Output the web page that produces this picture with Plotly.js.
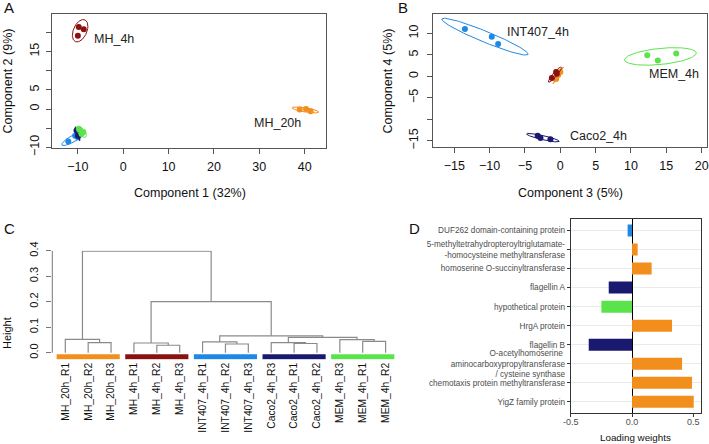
<!DOCTYPE html>
<html><head><meta charset="utf-8">
<script src="https://cdn.plot.ly/plotly-3.0.1.min.js"></script>
<style>html,body{margin:0;padding:0;background:#fff}#chart{width:709px;height:444px}</style>
</head><body><div id="chart"></div>
<script>
// ---------------- DATA ----------------
// Panel A : Component 1 (32%) vs Component 2 (9%)
const A_MH4h_x   = [-9.8, -8.7, -10.0];
const A_MH4h_y   = [21.4, 20.8, 19.1];
const A_MH20h_x  = [38.9, 40.3, 41.3];
const A_MH20h_y  = [-0.1, 0.0, -0.6];
const A_INT407_x = [-12.1, -10.6, -10.0];
const A_INT407_y = [-8.5, -7.0, -7.4];
const A_Caco2_x  = [-10.3, -9.9, -10.0];
const A_Caco2_y  = [-5.6, -6.8, -7.0];
const A_MEM_x    = [-9.7, -8.8, -9.2];
const A_MEM_y    = [-5.3, -6.0, -6.5];
const A_xticks = [-10, 0, 10, 20, 30, 40];
const A_xlabels = ["\u221210", "0", "10", "20", "30", "40"];
const A_yticks = [-10, -5, 0, 5, 10, 15, 20];
const A_ylabels = ["\u221210", "", "0", "5", "", "15", ""];

// Panel B : Component 3 (5%) vs Component 4 (5%)
const B_MH4h_x   = [-1.2, -0.6, -0.5];
const B_MH4h_y   = [-0.4, 1.0, 0.6];
const B_MH20h_x  = [0.0, -0.3, -0.6];
const B_MH20h_y  = [1.0, 0.3, -0.6];
const B_INT407_x = [-13.5, -9.7, -8.8];
const B_INT407_y = [11.0, 9.2, 7.5];
const B_Caco2_x  = [-3.2, -2.8, -1.4];
const B_Caco2_y  = [-13.8, -14.35, -14.6];
const B_MEM_x    = [12.3, 13.8, 16.4];
const B_MEM_y    = [4.9, 3.7, 5.3];
const B_xticks = [-15, -10, -5, 0, 5, 10, 15, 20];
const B_xlabels = ["\u221215", "\u221210", "\u22125", "0", "5", "10", "15", "20"];
const B_yticks = [-15, -10, -5, 0, 5, 10];
const B_ylabels = ["\u221215", "", "\u22125", "0", "5", "10"];

// Panel C : hierarchical clustering dendrogram
const C_leaves = ["MH_20h_R1","MH_20h_R2","MH_20h_R3","MH_4h_R1","MH_4h_R2","MH_4h_R3",
  "INT407_4h_R1","INT407_4h_R2","INT407_4h_R3","Caco2_4h_R3","Caco2_4h_R1","Caco2_4h_R2",
  "MEM_4h_R3","MEM_4h_R1","MEM_4h_R2"];
const C_leafGroup = ["MH_20h","MH_20h","MH_20h","MH_4h","MH_4h","MH_4h",
  "INT407_4h","INT407_4h","INT407_4h","Caco2_4h","Caco2_4h","Caco2_4h","MEM_4h","MEM_4h","MEM_4h"];
const C_mergeLeft   = [-2, -5, -8, -11, -14, -4, -10, -7, -13, -1, 7, 8, 6, 10];
const C_mergeRight  = [-3, -6, -9, -12, -15, 2, 4, 3, 5, 1, 9, 11, 12, 13];
const C_mergeHeight = [0.039, 0.029, 0.034, 0.036, 0.044, 0.038, 0.039, 0.042, 0.051, 0.052, 0.060, 0.066, 0.200, 0.398];
const C_yticks = [0, 0.1, 0.2, 0.3, 0.4];
const C_ylabels = ["0.0", "0.1", "0.2", "0.3", "0.4"];

// Panel D : loading weights
const D_proteins = ["DUF262 domain-containing protein",
  "5-methyltetrahydropteroyltriglutamate-<br>-homocysteine methyltransferase",
  "homoserine O-succinyltransferase", "flagellin A", "hypothetical protein", "HrgA protein",
  "flagellin B", "O-acetylhomoserine <br>aminocarboxypropyltransferase<br>/ cysteine synthase",
  "chemotaxis protein methyltransferase", "YigZ family protein"];
const D_weights = [-0.036, 0.046, 0.16, -0.19, -0.25, 0.326, -0.353, 0.408, 0.489, 0.503];
const D_group = ["INT407_4h","MH_20h","MH_20h","Caco2_4h","MEM_4h","MH_20h","Caco2_4h","MH_20h","MH_20h","MH_20h"];
const D_xticks = [-0.5, 0, 0.5];
const D_xlabels = ["-0.5", "0.0", "0.5"];

// ---------------- STYLE ----------------
const COL = {"MH_4h":"#8B1010","MH_20h":"#F28E1C","INT407_4h":"#1E88E5","Caco2_4h":"#191970","MEM_4h":"#5BE34B"};
const FONT = "Liberation Sans, Arial, Helvetica, sans-serif";
const W = 709, H = 444;
const fx = v => v / W, fy = v => 1 - v / H;
const K95 = Math.sqrt(-2 * Math.log(0.05)); // sqrt(qchisq(.95,2))

function mean(a){ return a.reduce((s,v)=>s+v,0)/a.length; }
function ellipse(xs, ys){
  const mx = mean(xs), my = mean(ys), n = xs.length;
  let sxx=0, syy=0, sxy=0;
  for(let i=0;i<n;i++){ const dx=xs[i]-mx, dy=ys[i]-my; sxx+=dx*dx; syy+=dy*dy; sxy+=dx*dy; }
  sxx/=(n-1); syy/=(n-1); sxy/=(n-1);
  const l11 = Math.sqrt(sxx), l21 = sxy/l11, l22 = Math.sqrt(Math.max(syy - l21*l21, 0));
  const ex=[], ey=[];
  for(let k=0;k<=120;k++){ const t = 2*Math.PI*k/120, c=Math.cos(t), s=Math.sin(t);
    ex.push(mx + K95*l11*c); ey.push(my + K95*(l21*c + l22*s)); }
  return {ex, ey, mx, my};
}

const traces = [];
const annotations = [];
function scoreGroup(xs, ys, grp, xa, ya){
  const e = ellipse(xs, ys);
  traces.push({type:"scatter", mode:"lines", x:e.ex, y:e.ey, xaxis:xa, yaxis:ya,
    line:{color:COL[grp], width:1}, hoverinfo:"skip", showlegend:false});
  traces.push({type:"scatter", mode:"markers", x:xs, y:ys, xaxis:xa, yaxis:ya,
    marker:{color:COL[grp], size:6}, hoverinfo:"skip", showlegend:false});
  return e;
}
function groupLabel(e, text, xa, ya, anchor, dx, dy){
  annotations.push({text:text, x:e.mx, y:e.my, xref:xa, yref:ya, showarrow:false,
    xanchor:anchor, yanchor:"middle", xshift:dx, yshift:dy, font:{family:FONT, size:12.5, color:"#222"}});
}

// Panel A
const eA1 = scoreGroup(A_INT407_x, A_INT407_y, "INT407_4h", "x", "y");
const eA2 = scoreGroup(A_Caco2_x, A_Caco2_y, "Caco2_4h", "x", "y");
const eA3 = scoreGroup(A_MEM_x, A_MEM_y, "MEM_4h", "x", "y");
const eA4 = scoreGroup(A_MH4h_x, A_MH4h_y, "MH_4h", "x", "y");
const eA5 = scoreGroup(A_MH20h_x, A_MH20h_y, "MH_20h", "x", "y");
groupLabel(eA4, "MH_4h", "x", "y", "left", 11.4, -7.8);
groupLabel(eA5, "MH_20h", "x", "y", "right", -2.3, -12.8);

// Panel B
const eB1 = scoreGroup(B_INT407_x, B_INT407_y, "INT407_4h", "x2", "y2");
const eB2 = scoreGroup(B_Caco2_x, B_Caco2_y, "Caco2_4h", "x2", "y2");
const eB3 = scoreGroup(B_MEM_x, B_MEM_y, "MEM_4h", "x2", "y2");
const eB5 = scoreGroup(B_MH20h_x, B_MH20h_y, "MH_20h", "x2", "y2");
const eB4 = scoreGroup(B_MH4h_x, B_MH4h_y, "MH_4h", "x2", "y2");
groupLabel(eB1, "INT407_4h", "x2", "y2", "left", 19.6, 4.7);
groupLabel(eB3, "MEM_4h", "x2", "y2", "left", -13.3, -17.2);
groupLabel(eB2, "Caco2_4h", "x2", "y2", "left", 24.7, 1.8);

// Panel C dendrogram
(function(){
  const nodeX = [], nodeY = [];
  function pos(id){ return id < 0 ? [ -id, 0 ] : [ nodeX[id-1], nodeY[id-1] ]; }
  const lx = [], ly = [];
  for(let k=0;k<C_mergeHeight.length;k++){
    const L = pos(C_mergeLeft[k]), R = pos(C_mergeRight[k]), h = C_mergeHeight[k];
    lx.push(L[0], L[0], R[0], R[0], null); ly.push(L[1], h, h, R[1], null);
    nodeX.push((L[0]+R[0])/2); nodeY.push(h);
  }
  traces.push({type:"scatter", mode:"lines", x:lx, y:ly, xaxis:"x3", yaxis:"y3",
    line:{color:"#8a8a8a", width:1.2}, hoverinfo:"skip", showlegend:false});
  const seen = [];
  C_leafGroup.forEach(g => { if(!seen.includes(g)) seen.push(g); });
  seen.forEach(g => {
    const idx = C_leafGroup.map((v,i)=>v===g ? i+1 : null).filter(v=>v!==null);
    traces.push({type:"scatter", mode:"lines", x:[Math.min(...idx)-0.38, Math.max(...idx)+0.38],
      y:[-0.0157, -0.0157], xaxis:"x3", yaxis:"y3", line:{color:COL[g], width:5},
      hoverinfo:"skip", showlegend:false});
  });
})();

// Panel D bars
traces.push({type:"bar", orientation:"h", x:D_weights, y:D_proteins, xaxis:"x4", yaxis:"y4",
  marker:{color:D_group.map(g=>COL[g])}, width:0.63, hoverinfo:"skip", showlegend:false});

// ---------------- LAYOUT ----------------
const tickFont = {family:FONT, size:12.5, color:"#111"};
function boxAxis(extra){ return Object.assign({showline:true, mirror:true, linecolor:"#555", linewidth:1,
  ticks:"outside", ticklen:5, tickcolor:"#555", showgrid:false, zeroline:false, tickmode:"array",
  tickfont:tickFont, automargin:false}, extra); }

function paperText(text, x, y, size, angle){
  return {text:text, x:fx(x), y:fy(y), xref:"paper", yref:"paper", xanchor:"center", yanchor:"middle",
    showarrow:false, textangle:angle||0, font:{family:FONT, size:size, color:"#111"}};
}
annotations.push(
  paperText("Component 1 (32%)", 190, 193, 12.5),
  paperText("Component 2 (9%)", 7.5, 81, 12.5, -90),
  paperText("Component 3 (5%)", 570.5, 193, 12.5),
  paperText("Component 4 (5%)", 387.5, 81, 12.5, -90),
  paperText("Height", 7, 333, 11, -90),
  paperText("Loading weights", 635.3, 437, 9.8),
  paperText("A", 8.5, 7.8, 15),
  paperText("B", 403.3, 7.8, 15),
  paperText("C", 9.2, 229, 15),
  paperText("D", 414.3, 228.3, 15)
);

const layout = {
  width:W, height:H, margin:{l:0,r:0,t:0,b:0}, paper_bgcolor:"#fff", plot_bgcolor:"rgba(0,0,0,0)",
  showlegend:false, font:{family:FONT},
  xaxis: boxAxis({domain:[fx(52), fx(326)], range:[-15.7, 44.7], tickvals:A_xticks, ticktext:A_xlabels, anchor:"y"}),
  yaxis: boxAxis({domain:[fy(147.7), fy(14)], range:[-10.1, 24.8], tickvals:A_yticks, ticktext:A_ylabels, tickangle:-90, anchor:"x"}),
  xaxis2: boxAxis({domain:[fx(432.7), fx(707.3)], range:[-18.06, 20.8], tickvals:B_xticks, ticktext:B_xlabels, anchor:"y2"}),
  yaxis2: boxAxis({domain:[fy(147.3), fy(14)], range:[-16.5, 14.5], tickvals:B_yticks, ticktext:B_ylabels, tickangle:-90, anchor:"x2"}),
  xaxis3: {domain:[fx(52.3), fx(395)], range:[0.4318, 15.411], anchor:"y3", showline:false, showgrid:false, zeroline:false,
    ticks:"", tickmode:"array", tickvals:C_leaves.map((_,i)=>i+1), ticktext:C_leaves, tickangle:-90,
    tickfont:{family:FONT, size:10.3, color:"#111"}, automargin:false},
  yaxis3: {domain:[fy(359.8), fy(250.7)], range:[-0.028, 0.4], anchor:"x3", showline:false, showgrid:false, zeroline:false,
    ticks:"outside", ticklen:5, tickcolor:"#777", tickmode:"array", tickvals:C_yticks, ticktext:C_ylabels, tickangle:-90,
    tickfont:{family:FONT, size:11, color:"#111"}, automargin:false},
  xaxis4: {domain:[fx(570.7), fx(700.7)], range:[-0.5, 0.56], anchor:"y4", showline:true, mirror:true, linecolor:"#333", linewidth:1,
    ticks:"outside", ticklen:3, tickcolor:"#333", showgrid:false, zeroline:true, zerolinecolor:"#000", zerolinewidth:1,
    tickmode:"array", tickvals:D_xticks, ticktext:D_xlabels, ticklabelstandoff:0,
    tickfont:{family:FONT, size:9, color:"#4D4D4D"}, automargin:false},
  yaxis4: {domain:[fy(413.3), fy(219)], type:"category", categoryorder:"array", categoryarray:D_proteins,
    range:[9.6, -0.6], anchor:"x4", showline:true, mirror:true, linecolor:"#333", linewidth:1,
    ticks:"outside", ticklen:3, tickcolor:"#333", showgrid:true, gridcolor:"#EBEBEB", gridwidth:1, zeroline:false,
    tickfont:{family:FONT, size:8.2, color:"#4D4D4D"}, automargin:false},
  shapes:[{type:"line", xref:"paper", yref:"y3", x0:fx(52.3), x1:fx(52.3), y0:0, y1:0.4, line:{color:"#777", width:1}}],
  annotations: annotations
};

// target centres (px) of tick-label columns/rows, matched to the reference
const labelTargets = [
  {axis:"yaxis",  id:"y",  dim:"x", target:35.5, left:true},
  {axis:"yaxis2", id:"y2", dim:"x", target:413.5, left:true},
  {axis:"yaxis3", id:"y3", dim:"x", target:34, left:true},
  {axis:"xaxis",  id:"x",  dim:"y", target:166.7, left:false},
  {axis:"xaxis2", id:"x2", dim:"y", target:166.7, left:false},
  {axis:"xaxis4", id:"x4", dim:"y", target:421.7, left:false}
];

const gd = document.getElementById("chart");
Plotly.newPlot(gd, traces, layout, {staticPlot:true, displayModeBar:false}).then(() => {
  const upd = {};
  const host = gd.getBoundingClientRect();
  labelTargets.forEach(t => {
    const nodes = gd.querySelectorAll("g." + t.id + "tick text");
    let sum = 0, n = 0;
    nodes.forEach(nd => { const r = nd.getBoundingClientRect(); if(r.width > 0){
      sum += t.dim === "x" ? (r.left + r.right)/2 - host.left : (r.top + r.bottom)/2 - host.top; n++; } });
    if(!n) return;
    const m = sum / n;
    const cur = (layout[t.axis].ticklabelstandoff || 0);
    const delta = t.target - m;
    upd[t.axis + ".ticklabelstandoff"] = Math.round(t.left ? cur - delta : cur + delta);
  });
  return Plotly.relayout(gd, upd);
});
</script></body></html>
